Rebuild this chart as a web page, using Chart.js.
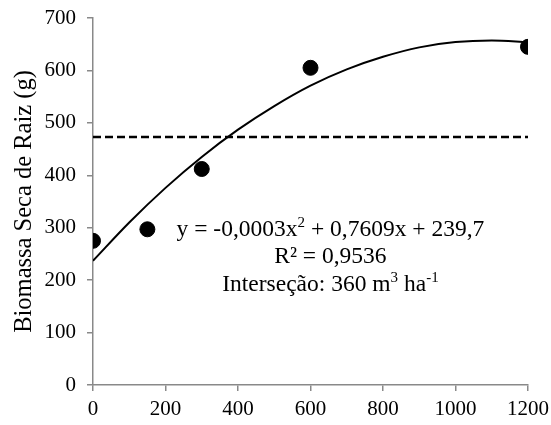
<!DOCTYPE html>
<html>
<head>
<meta charset="utf-8">
<script src="https://cdn.jsdelivr.net/npm/chart.js@4.4.1/dist/chart.umd.min.js"></script>
<style>
    html, body { margin: 0; padding: 0; background: #fff; }
    #wrap { width: 551px; height: 425px; }
</style>
</head>
<body>
<div id="wrap"><canvas id="myChart"></canvas></div>
<script>
// data

const doses = [0, 150, 300, 600, 1200];
const biomassa = [275, 297, 412, 605, 645];

// fitted curve, read at every 100 along x
const curveX = [0, 100, 200, 300, 400, 500, 600, 700, 800, 900, 1000, 1100, 1200];
const curveY = [237, 310, 376, 435, 487, 532, 571, 602, 626, 644, 654, 657, 654];

// dashed reference line
const refX = [0, 1200];
const refLevel = 473;

const xTicks = [0, 200, 400, 600, 800, 1000, 1200];
const yTicks = [0, 100, 200, 300, 400, 500, 600, 700];

const yTitle = "Biomassa Seca de Raiz (g)";

// text lines, parts with sup: true are drawn as superscripts
const noteLines = [
    [{ t: "y = -0,0003x" }, { t: "2", sup: true }, { t: " + 0,7609x + 239,7" }],
    [{ t: "R² = 0,9536" }],
    [{ t: "Interseção: 360 m" }, { t: "3", sup: true }, { t: " ha" }, { t: "-1", sup: true }]
];

// ------

const serif = "'Liberation Serif', 'Times New Roman', serif";
const axisGray = "#898989";

Chart.defaults.font.family = serif;

const notePlugin = {
    id: "notes",
    afterDraw(chart) {
        const c = chart.ctx;
        const xs = chart.scales.x;
        const ys = chart.scales.y;
        const cx = xs.getPixelForValue(655);
        const baselines = [284, 232, 179.5];
        const size = 23.5;
        const supSize = 15;

        c.save();
        c.fillStyle = "#000";
        c.textBaseline = "alphabetic";
        c.textAlign = "left";
        noteLines.forEach((parts, i) => {
            let total = 0;
            parts.forEach(p => {
                c.font = `${p.sup ? supSize : size}px ${serif}`;
                p.w = c.measureText(p.t).width;
                total += p.w;
            });
            let x = cx - total / 2;
            const y = ys.getPixelForValue(baselines[i]);
            parts.forEach(p => {
                c.font = `${p.sup ? supSize : size}px ${serif}`;
                c.fillText(p.t, x, p.sup ? y - 9 : y);
                x += p.w;
            });
        });
        c.restore();
    }
};

const ctx = document.getElementById("myChart").getContext("2d");
const myChart = new Chart(ctx, {
    type: "scatter",
    data: {
        datasets: [
            {
                label: "Biomassa",
                data: doses.map((d, i) => ({ x: d, y: biomassa[i] })),
                backgroundColor: "#000",
                borderColor: "#000",
                pointRadius: 7.5,
                pointHoverRadius: 7.5
            },
            {
                label: "Ajuste",
                data: curveX.map((d, i) => ({ x: d, y: curveY[i] })),
                showLine: true,
                borderColor: "#000",
                borderWidth: 2,
                pointRadius: 0,
                cubicInterpolationMode: "monotone",
                fill: false
            },
            {
                label: "Referencia",
                data: refX.map(d => ({ x: d, y: refLevel })),
                showLine: true,
                borderColor: "#000",
                borderWidth: 2.5,
                borderDash: [8, 4],
                pointRadius: 0,
                fill: false
            }
        ]
    },
    options: {
        responsive: true,
        maintainAspectRatio: false,
        animation: false,
        layout: {
            padding: { top: 18, right: 23, left: 0, bottom: 0 }
        },
        scales: {
            x: {
                type: "linear",
                min: xTicks[0],
                max: xTicks[xTicks.length - 1],
                afterBuildTicks: axis => {
                    axis.ticks = xTicks.map(v => ({ value: v }));
                },
                afterFit: axis => {
                    axis.height = 40;
                    axis.paddingLeft = 0;
                    axis.paddingRight = 0;
                },
                border: { color: axisGray, width: 1.5 },
                grid: {
                    drawOnChartArea: false,
                    drawTicks: true,
                    tickLength: 6,
                    color: axisGray,
                    lineWidth: 1.5
                },
                ticks: {
                    color: "#000",
                    padding: 6,
                    maxRotation: 0,
                    font: { family: serif, size: 21 },
                    callback: v => String(v)
                }
            },
            y: {
                type: "linear",
                min: yTicks[0],
                max: yTicks[yTicks.length - 1],
                afterBuildTicks: axis => {
                    axis.ticks = yTicks.map(v => ({ value: v }));
                },
                afterFit: axis => {
                    axis.width = 93;
                    axis.paddingTop = 0;
                    axis.paddingBottom = 0;
                },
                border: { color: axisGray, width: 1.5 },
                grid: {
                    drawOnChartArea: false,
                    drawTicks: true,
                    tickLength: 6,
                    color: axisGray,
                    lineWidth: 1.5
                },
                ticks: {
                    color: "#000",
                    padding: 11,
                    font: { family: serif, size: 21 },
                    callback: v => String(v)
                },
                title: {
                    display: true,
                    text: yTitle,
                    color: "#000",
                    font: { family: serif, size: 24.5 },
                    padding: { top: 10, bottom: 0 }
                }
            }
        },
        plugins: {
            legend: { display: false },
            tooltip: { enabled: false }
        }
    },
    plugins: [notePlugin]
});
</script>
</body>
</html>
